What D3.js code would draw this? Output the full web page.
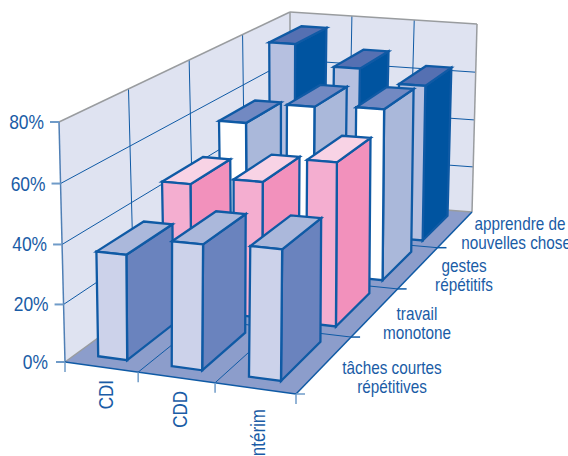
<!DOCTYPE html>
<html><head><meta charset="utf-8">
<style>html,body{margin:0;background:#fff;overflow:hidden}svg{display:block}text{font-family:"Liberation Sans",Arial,sans-serif;font-size:20px;fill:#1a5ca6}</style>
<script src="https://cdn.jsdelivr.net/npm/d3@7"></script></head><body>
<svg id="c" width="568" height="456"></svg>
<script>
// Contract types along the width, job conditions along the depth (front to back)
const contracts = ["CDI", "CDD", "intérim"];
const conditions = ["tâches courtes répétitives", "travail monotone", "gestes répétitifs", "apprendre de nouvelles choses"];
const tachesCourtes = [36, 42, 43];
const travailMonotone = [46, 49, 58];
const gestesRepetitifs = [56, 64, 65];
const apprendre = [76, 68, 63];
const seriesValues = [tachesCourtes, travailMonotone, gestesRepetitifs, apprendre];
const percentTicks = [0, 20, 40, 60, 80];

// Front, side and top colours of each row of bars
const frontFill = ["#ccd2ea", "#f4aed0", "#ffffff", "#b6c0e0"];
const sideFill = ["#6a83be", "#f291bc", "#aab8da", "#0054a0"];
const topFill = ["#abb8db", "#f8d3e5", "#7289c2", "#5570b2"];
const blue = "#0f5aa5", tickBlue = "#6f9bc8", grey = "#999c9f";

// Maps the unit square on a quadrilateral (projective transform)
function quadMap(q) {
  const [[x0, y0], [x1, y1], [x2, y2], [x3, y3]] = q;
  const dx1 = x1 - x2, dx2 = x3 - x2, sx = x0 - x1 + x2 - x3;
  const dy1 = y1 - y2, dy2 = y3 - y2, sy = y0 - y1 + y2 - y3;
  const d = dx1 * dy2 - dx2 * dy1;
  const g = (sx * dy2 - dx2 * sy) / d, h = (dx1 * sy - sx * dy1) / d;
  const a = x1 - x0 + g * x1, b = x3 - x0 + h * x3;
  const e = y1 - y0 + g * y1, f = y3 - y0 + h * y3;
  return (s, t) => {
    const w = g * s + h * t + 1;
    return [(a * s + b * t + x0) / w, (e * s + f * t + y0) / w];
  };
}

// Corners: front-left, front-right, back-right, back-left
const floorPlane = quadMap([[65, 362], [296, 394], [472, 212], [290, 198]]);
const ceilingPlane = quadMap([[59, 122], [298, 139], [477, 24], [290, 12]]);

const uScale = d3.scaleLinear().domain([0, contracts.length]).range([0, 1]);
const wScale = d3.scaleLinear().domain([0, conditions.length]).range([0, 1]);
const hScale = d3.scalePow().exponent(1.03).domain([0, 80]).range([0, 1]);
const xBand = d3.scaleBand().domain(contracts).range([0, contracts.length]).paddingInner(0.6).paddingOuter(0.3);
const zBand = d3.scaleBand().domain(conditions).range([0, conditions.length]).paddingInner(0.3).paddingOuter(0.16);

function project(u, w, v) {
  const a = floorPlane(uScale(u), wScale(w)), b = ceilingPlane(uScale(u), wScale(w)), t = hScale(v);
  return [a[0] + (b[0] - a[0]) * t, a[1] + (b[1] - a[1]) * t];
}

const svg = d3.select("#c");
const line = d3.line();
const poly = (pts, fill, stroke, sw) => svg.append("path").attr("d", line(pts) + "Z").attr("fill", fill)
  .attr("stroke", stroke || "none").attr("stroke-width", sw || 0).attr("stroke-linejoin", "miter");
const seg = (a, b, stroke, sw) => svg.append("line").attr("x1", a[0]).attr("y1", a[1]).attr("x2", b[0]).attr("y2", b[1])
  .attr("stroke", stroke).attr("stroke-width", sw);

const U = contracts.length, W = conditions.length;

// Walls and floor
poly([project(0, 0, 0), project(0, W, 0), project(0, W, 80), project(0, 0, 80)], "#dfe3f1");
poly([project(0, W, 0), project(U, W, 0), project(U, W, 80), project(0, W, 80)], "#dfe3f1");
poly([project(0, 0, 0), project(U, 0, 0), project(U, W, 0), project(0, W, 0)], "#8c9dcb");

// Grid on the walls
percentTicks.slice(1, -1).forEach(v => {
  seg(project(0, 0, v), project(0, W, v), blue, 1);
  seg(project(0, W, v), project(U, W, v), blue, 1);
});
d3.range(1, W).forEach(w => seg(project(0, w, 0), project(0, w, 80), blue, 1));
d3.range(1, U).forEach(u => seg(project(u, W, 0), project(u, W, 80), blue, 1));

// Wall outlines
seg(project(0, 0, 80), project(0, W, 80), grey, 1.5);
seg(project(0, W, 80), project(U, W, 80), grey, 1.5);
seg(project(U, W, 80), project(U, W, 0), grey, 1.5);
seg(project(0, 0, 0), project(0, W, 0), grey, 1.5);
seg(project(0, W, 0), project(U, W, 0), grey, 1.5);
seg(project(0, W, 0), project(0, W, 80), grey, 1.5);
seg(project(0, 0, 0), project(0, 0, 80), "#4f7fb5", 1.5);

// Floor grid
d3.range(1, U).forEach(u => seg(project(u, 0, 0), project(u, W, 0), blue, 1));
d3.range(1, W).forEach(w => seg(project(0, w, 0), project(U, w, 0), blue, 1));
seg(project(0, 0, 0), project(U, 0, 0), blue, 1.5);
seg(project(U, 0, 0), project(U, W, 0), blue, 1.5);

// Bars, back row first, left to right inside a row
d3.range(W - 1, -1, -1).forEach(r => {
  contracts.forEach((c, i) => {
    const v = seriesValues[r][i];
    const u0 = xBand(c), u1 = u0 + xBand.bandwidth();
    const w0 = zBand(conditions[r]), w1 = w0 + zBand.bandwidth();
    poly([project(u1, w0, 0), project(u1, w1, 0), project(u1, w1, v), project(u1, w0, v)], sideFill[r], blue, 2.3);
    poly([project(u0, w0, v), project(u1, w0, v), project(u1, w1, v), project(u0, w1, v)], topFill[r], blue, 2.3);
    poly([project(u0, w0, 0), project(u1, w0, 0), project(u1, w0, v), project(u0, w0, v)], frontFill[r], blue, 2.3);
  });
});

// Text helper: stacked lines, horizontally condensed
const label = (x, y, parts, anchor, size, rot) => {
  const g = svg.append("g").attr("transform", `translate(${x},${y})` + (rot ? ` rotate(${rot})` : "") + " scale(0.85,1)");
  parts.forEach((p, i) => g.append("text").attr("y", i * 19.5).attr("text-anchor", anchor).style("font-size", size + "px").text(p));
};

// Percent axis
percentTicks.forEach(v => {
  const p = project(0, 0, v);
  seg([p[0] - 9, p[1]], p, tickBlue, 2);
  label(p[0] - 15 - (v === 0 ? 2 : 0), p[1] + 7, [v + "%"], "end", 20.5);
});

// Contract axis
d3.range(0, U + 1).forEach(u => {
  const p = project(u, 0, 0);
  seg(p, [p[0], p[1] + 10], tickBlue, 1.5);
});
const contractLabelX = [113, 187, 265], contractLabelY = [380, 391, 409];
contracts.forEach((c, i) => label(contractLabelX[i], contractLabelY[i], [c], "end", 20, -90));

// Depth axis
d3.range(0, W).forEach(w => {
  const p = project(U, w, 0);
  seg(p, [p[0] + 9, p[1]], w === 0 ? tickBlue : blue, 1.5);
});
const conditionLines = [["tâches courtes", "répétitives"], ["travail", "monotone"], ["gestes", "répétitifs"], ["apprendre de", "nouvelles choses"]];
const conditionX = [392, 417, 464, 520], conditionY = [374, 320, 272, 230];
conditionLines.forEach((l, i) => label(conditionX[i], conditionY[i], l, "middle", 18));
</script></body></html>
